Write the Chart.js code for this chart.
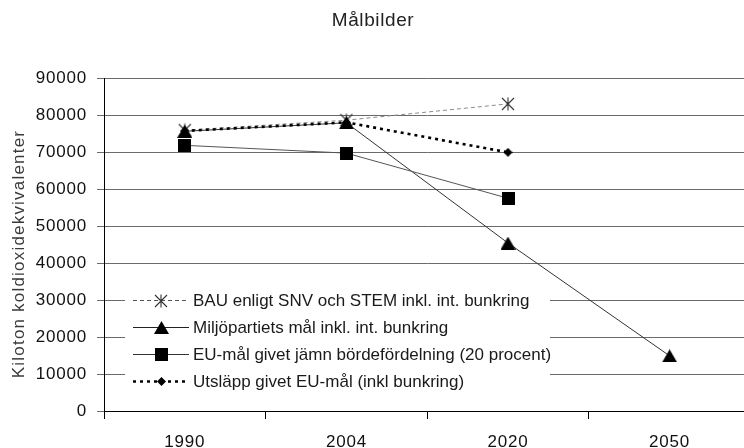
<!DOCTYPE html>
<html>
<head>
<meta charset="utf-8">
<script src="https://cdn.jsdelivr.net/npm/chart.js@4/dist/chart.umd.min.js"></script>
<style>
html,body{margin:0;padding:0;background:#fff;overflow:hidden;width:744px;height:448px;}
canvas{display:block;}
</style>
</head>
<body>
<canvas id="c" width="760" height="448"></canvas>
<script>
// ---- data ----
const categories = ['1990', '2004', '2020', '2050'];
const bauValues = [75900, 78600, 83000, null];
const miljoValues = [75600, 77900, 45400, 14900];
const euValues = [71800, 69700, 57500, null];
const utslappValues = [75700, 78000, 69900, null];
const yTickMin = 0, yTickMax = 90000, yTickStep = 10000;
const titleText = 'Målbilder';
const yTitleText = 'Kiloton koldioxidekvivalenter';
const seriesNames = [
  'BAU enligt SNV och STEM inkl. int. bunkring',
  'Miljöpartiets mål inkl. int. bunkring',
  'EU-mål givet jämn bördefördelning (20 procent)',
  'Utsläpp givet EU-mål (inkl bunkring)'
];

// ---- marker canvases ----
function mk(w, h, fn) {
  const c = document.createElement('canvas');
  c.width = w; c.height = h;
  const g = c.getContext('2d');
  fn(g, w, h);
  return c;
}
const asterisk = mk(14, 14, (g, w, h) => {
  g.strokeStyle = '#333'; g.lineWidth = 1.1;
  g.beginPath();
  g.moveTo(1, 1); g.lineTo(13, 13);
  g.moveTo(13, 1); g.lineTo(1, 13);
  g.moveTo(7, 0.5); g.lineTo(7, 13.5);
  g.stroke();
});
const triangle = mk(15, 13, (g, w, h) => {
  g.fillStyle = '#000';
  g.beginPath(); g.moveTo(7.5, 0); g.lineTo(15, 13); g.lineTo(0, 13); g.closePath(); g.fill();
});
const square = mk(13, 13, (g, w, h) => { g.fillStyle = '#000'; g.fillRect(0, 0, 13, 13); });
const diamond = mk(9, 9, (g, w, h) => {
  g.fillStyle = '#000';
  g.beginPath(); g.moveTo(4.5, 0); g.lineTo(9, 4.5); g.lineTo(4.5, 9); g.lineTo(0, 4.5); g.closePath(); g.fill();
});

const styles = [
  { color: '#8a8a8a', legendColor: '#555', width: 1, dash: [4, 3], marker: asterisk },
  { color: '#333', legendColor: '#222', width: 1, dash: [], marker: triangle },
  { color: '#555', legendColor: '#333', width: 1, dash: [], marker: square },
  { color: '#000', legendColor: '#000', width: 2.6, dash: [3, 4], marker: diamond }
];
const allValues = [bauValues, miljoValues, euValues, utslappValues];

const datasets = allValues.map((vals, i) => ({
  label: seriesNames[i],
  data: vals,
  borderColor: styles[i].color,
  borderWidth: styles[i].width,
  borderDash: styles[i].dash,
  pointStyle: styles[i].marker,
  pointRadius: 7,
  pointHoverRadius: 7,
  tension: 0,
  fill: false,
  order: 4 - i
}));

const FONT = '"Liberation Sans", Arial, sans-serif';

const chromePlugin = {
  id: 'chrome',
  beforeDraw(chart) {
    const ctx = chart.ctx;
    try { ctx.letterSpacing = '0.8px'; } catch (e) {}
  },
  afterDatasetsDraw(chart) {
    const ctx = chart.ctx;
    ctx.save();
    // legend box
    ctx.fillStyle = '#fff';
    ctx.fillRect(125, 287, 425, 109);
    const rows = [300, 327, 354, 381];
    rows.forEach((y, i) => {
      const s = styles[i];
      ctx.save();
      ctx.strokeStyle = s.legendColor;
      ctx.lineWidth = s.width;
      ctx.setLineDash(s.dash);
      ctx.beginPath();
      ctx.moveTo(133, y + 0.5); ctx.lineTo(189, y + 0.5);
      ctx.stroke();
      ctx.restore();
      const m = s.marker;
      ctx.drawImage(m, Math.round(161 - m.width / 2), Math.round(y + 0.5 - m.height / 2));
      try { ctx.letterSpacing = '0px'; } catch (e) {}
      ctx.fillStyle = '#1a1a1a';
      ctx.font = '17px ' + FONT;
      ctx.textBaseline = 'middle';
      ctx.textAlign = 'left';
      ctx.fillText(seriesNames[i], 193, y + 1);
    });
    // title
    try { ctx.letterSpacing = '0.6px'; } catch (e) {}
    ctx.fillStyle = '#222';
    ctx.font = '19px ' + FONT;
    ctx.textAlign = 'center';
    ctx.textBaseline = 'middle';
    ctx.fillText(titleText, 373, 21);
    // y title
    try { ctx.letterSpacing = '1.2px'; } catch (e) {}
    ctx.translate(19, 254);
    ctx.rotate(-Math.PI / 2);
    ctx.fillStyle = '#3a3a3a';
    ctx.font = '17px ' + FONT;
    ctx.fillText(yTitleText, 0, 0);
    ctx.restore();
  }
};

new Chart(document.getElementById('c'), {
  type: 'line',
  data: { labels: categories, datasets },
  plugins: [chromePlugin],
  options: {
    responsive: false,
    animation: false,
    devicePixelRatio: 1,
    layout: { padding: { top: 78, right: 8, left: 0, bottom: 0 } },
    plugins: { legend: { display: false }, title: { display: false }, tooltip: { enabled: false } },
    scales: {
      x: {
        type: 'category',
        offset: true,
        afterFit(s) { s.height = 37; },
        grid: { offset: true, drawOnChartArea: false, drawTicks: true, tickLength: 8, color: '#000' },
        border: { display: true, color: '#000', width: 1 },
        ticks: { color: '#111', font: { family: FONT, size: 17 }, padding: 13, maxRotation: 0, autoSkip: false }
      },
      y: {
        min: yTickMin, max: yTickMax,
        afterFit(s) { s.width = 104; },
        grid: { color: '#6a6a6a', lineWidth: 1, tickLength: 7, drawTicks: true },
        border: { display: true, color: '#000', width: 1 },
        ticks: { stepSize: yTickStep, color: '#111', font: { family: FONT, size: 17 }, padding: 10,
          callback: v => String(v) }
      }
    }
  }
});
</script>
</body>
</html>
